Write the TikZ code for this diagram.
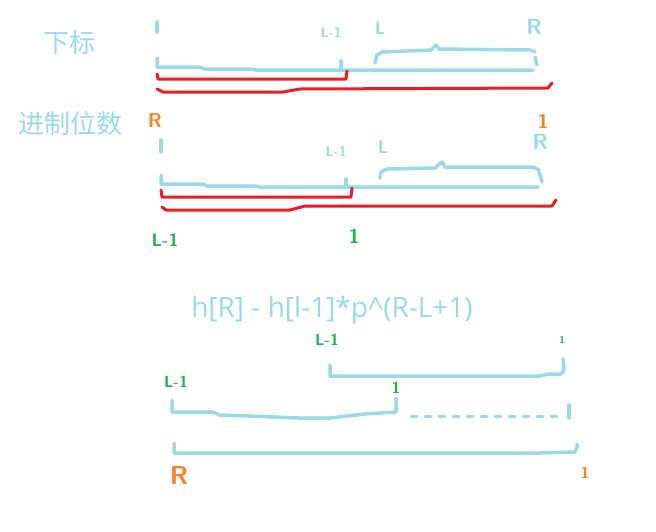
\documentclass[tikz,border=0pt]{standalone}
\usepackage{fontspec}
\usepackage{tikz}
\newfontfamily\cjk{Noto Sans CJK SC}
\newfontfamily\formfont{Open Sans}
\definecolor{sky}{RGB}{153,217,234}
\definecolor{redink}{RGB}{237,28,36}
\definecolor{orangeink}{RGB}{255,127,39}
\definecolor{greenink}{RGB}{34,177,76}

\begin{document}
\begin{tikzpicture}[x=1pt, y=-1pt,
  blueline/.style={draw=sky, line width=3.5pt, line cap=round, line join=round},
  redline/.style={draw=redink, line width=3pt, line cap=round, line join=round},
  hand/.style={inner sep=0pt, font=\sffamily\bfseries\fontsize{16}{16}\selectfont}]
\useasboundingbox (0, 0) rectangle (656, 531);

\node [text=sky, font=\cjk\fontsize{26}{26}\selectfont] (sub) at (69, 43) {下标};
\node [text=sky, font=\cjk\fontsize{26}{26}\selectfont] (digits) at (70, 124) {进制位数};

\node [hand, text=sky, font=\sffamily\bfseries\fontsize{14}{14}\selectfont] (Lm1a) at (331, 32) {L-1};
\node [hand, text=sky, font=\sffamily\bfseries\fontsize{18}{18}\selectfont] (La) at (380, 28) {L};
\node [hand, text=sky, font=\sffamily\bfseries\fontsize{22}{22}\selectfont] (Ra) at (534, 27) {R};
\node [hand, text=orangeink, font=\sffamily\bfseries\fontsize{20}{20}\selectfont] (Rdig) at (155, 121) {R};
\node [hand, text=orangeink, font=\sffamily\bfseries\fontsize{20}{20}\selectfont] (onedig) at (543, 121) {1};

\draw [blueline] (157, 22) -- (157, 32);
\draw [blueline] (157, 58) -- (157, 67) -- (200, 67) -- (204, 69) -- (250, 69) -- (256, 70) -- (533, 70);
\draw [blueline] (341, 61) -- (341, 70);
\draw [blueline] (375, 63) -- (377, 55) -- (382, 52) -- (431, 50) -- (436, 45) -- (439, 49) -- (530, 50) -- (535, 52);
\draw [blueline] (535, 57) -- (537, 65);
\draw [redline] (157, 74) -- (158, 79) -- (346, 79) -- (347, 71);
\draw [redline] (157, 89) -- (163, 92) -- (283, 92) -- (300, 89) -- (548, 88) -- (552, 83);

\node [hand, text=sky, font=\sffamily\bfseries\fontsize{14}{14}\selectfont] (Lm1b) at (336, 151) {L-1};
\node [hand, text=sky, font=\sffamily\bfseries\fontsize{18}{18}\selectfont] (Lb) at (383, 147) {L};
\node [hand, text=sky, font=\sffamily\bfseries\fontsize{22}{22}\selectfont] (Rb) at (540, 142) {R};
\node [hand, text=greenink, font=\sffamily\bfseries\fontsize{18}{18}\selectfont] (Lm1c) at (165, 240) {L-1};
\node [hand, text=greenink, font=\sffamily\bfseries\fontsize{20}{20}\selectfont] (onec) at (354, 236) {1};

\draw [blueline] (161, 140) -- (161, 152);
\draw [blueline] (161, 175) -- (161, 184) -- (203, 184) -- (207, 186) -- (256, 186) -- (260, 187) -- (538, 187);
\draw [blueline] (346, 179) -- (346, 187);
\draw [blueline] (380, 178) -- (381, 172) -- (387, 169) -- (435, 168) -- (442, 162) -- (445, 167) -- (533, 167) -- (539, 170);
\draw [blueline] (539, 172) -- (542, 182);
\draw [redline] (161, 190) -- (162, 197) -- (351, 197) -- (352, 188);
\draw [redline] (162, 207) -- (166, 210) -- (290, 210) -- (305, 206) -- (552, 206) -- (556, 200);

\node [text=sky, font=\formfont\fontsize{28}{28}\selectfont] (formula) at (332, 310) {h[R] - h[l-1]*p\^{}(R-L+1)};

\node [hand, text=greenink] (Lm1d) at (327, 340) {L-1};
\node [hand, text=greenink, font=\sffamily\bfseries\fontsize{10}{10}\selectfont] (oned) at (562, 340) {1};
\node [hand, text=greenink] (Lm1e) at (176, 382) {L-1};
\node [hand, text=greenink] (onee) at (396, 388) {1};

\draw [blueline] (330, 365) -- (330, 376) -- (540, 376) -- (548, 374) -- (561, 374) -- (564, 370) -- (563, 359);
\draw [blueline] (172, 400) -- (172, 412) -- (212, 412) -- (220, 415) -- (250, 416) -- (298, 418) -- (330, 418) -- (365, 414) -- (396, 412) -- (396, 398);
\draw [blueline, line width=3pt, dash pattern=on 6pt off 8pt] (411, 416) -- (560, 416);
\draw [blueline] (569, 405) -- (569, 418);
\draw [blueline] (174, 443) -- (174, 453) -- (540, 453) -- (575, 452) -- (577, 447) -- (577, 444);

\node [hand, text=orangeink, font=\sffamily\bfseries\fontsize{26}{26}\selectfont] (Rdige) at (179, 475) {R};
\node [hand, text=orangeink] (onedige) at (585, 473) {1};
\end{tikzpicture}
\end{document}
